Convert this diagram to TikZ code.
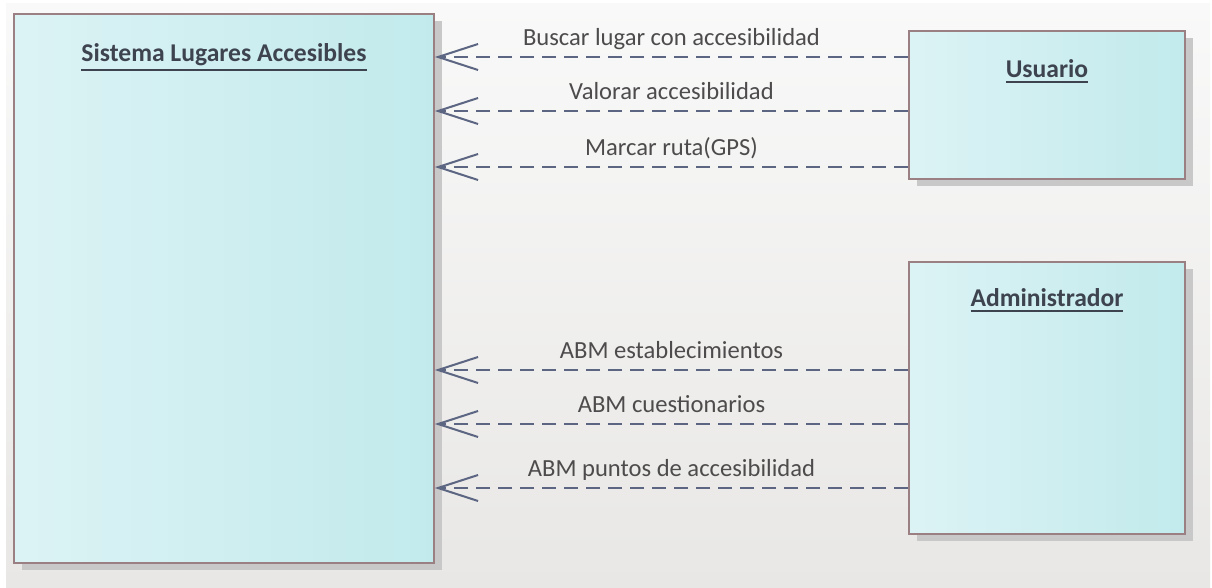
\documentclass[tikz,border=0pt]{standalone}
\usepackage{fontspec}
\setmainfont{Carlito}
\usepackage{xcolor}
\usepackage{tikz}
\usetikzlibrary{arrows.meta, positioning, shadows}

\definecolor{boxleft}{HTML}{DCF3F5}
\definecolor{boxright}{HTML}{C2EAEC}
\definecolor{boxedge}{HTML}{9A8083}
\definecolor{shadowgray}{HTML}{C8C8C8}
\definecolor{linkblue}{HTML}{5C6682}
\definecolor{textgray}{HTML}{4D4B4B}
\definecolor{titlegray}{HTML}{3E4350}
\definecolor{bgtop}{HTML}{F9F9F9}
\definecolor{bgbottom}{HTML}{E8E7E5}

\newcommand{\titleline}[1]{\vtop{\hbox{#1}\kern1.8pt\hrule height 1.1pt}}

\begin{document}
\begin{tikzpicture}[x=0.5pt, y=-0.5pt]
\tikzstyle{block} = [rectangle, draw=boxedge, line width=0.8pt, left color=boxleft, right color=boxright, drop shadow={shadow xshift=4pt, shadow yshift=-3.5pt, fill=shadowgray, opacity=1}, inner sep=0pt]
\tikzstyle{blocktitle} = [font=\fontsize{12.8}{15}\selectfont\bfseries, text=titlegray, anchor=base, inner sep=0pt]
\tikzstyle{lbl} = [font=\fontsize{12.3}{14}\selectfont, text=textgray, anchor=base, inner sep=0pt, yshift=5.5pt]
\tikzstyle{arrow} = [linkblue, line width=1pt, dash pattern=on 7pt off 4pt, -{Straight Barb[length=20pt, width=13pt]}]

% background
\useasboundingbox (0,0) rectangle (1212,588);
\fill [white] (0,0) rectangle (1212,588);
\shade [top color=bgtop, bottom color=bgbottom] (6,4) rectangle (1210,588);

% boxes
\node (sys) [block, minimum width=210pt, minimum height=274.5pt] at (224,288.5) {};
\node (usr) [block, minimum width=138pt, minimum height=74pt] at (1047,105) {};
\node (adm) [block, minimum width=138pt, minimum height=136pt] at (1047,398) {};

\node (systitle) [blocktitle] at ([yshift=-24pt]sys.north) {\titleline{Sistema Lugares Accesibles}};
\node (usrtitle) [blocktitle] at ([yshift=-23.5pt]usr.north) {\titleline{Usuario}};
\node (admtitle) [blocktitle] at ([yshift=-22.5pt]adm.north) {\titleline{Administrador}};

% links
\draw [arrow] (usr.west |- 0,57) -- (sys.east |- 0,57) node [lbl, midway] {Buscar lugar con accesibilidad};
\draw [arrow] (usr.west |- 0,111) -- (sys.east |- 0,111) node [lbl, midway] {Valorar accesibilidad};
\draw [arrow] (usr.west |- 0,167) -- (sys.east |- 0,167) node [lbl, midway] {Marcar ruta(GPS)};
\draw [arrow] (adm.west |- 0,370) -- (sys.east |- 0,370) node [lbl, midway] {ABM establecimientos};
\draw [arrow] (adm.west |- 0,424) -- (sys.east |- 0,424) node [lbl, midway] {ABM cuestionarios};
\draw [arrow] (adm.west |- 0,488) -- (sys.east |- 0,488) node [lbl, midway] {ABM puntos de accesibilidad};
\end{tikzpicture}
\end{document}
